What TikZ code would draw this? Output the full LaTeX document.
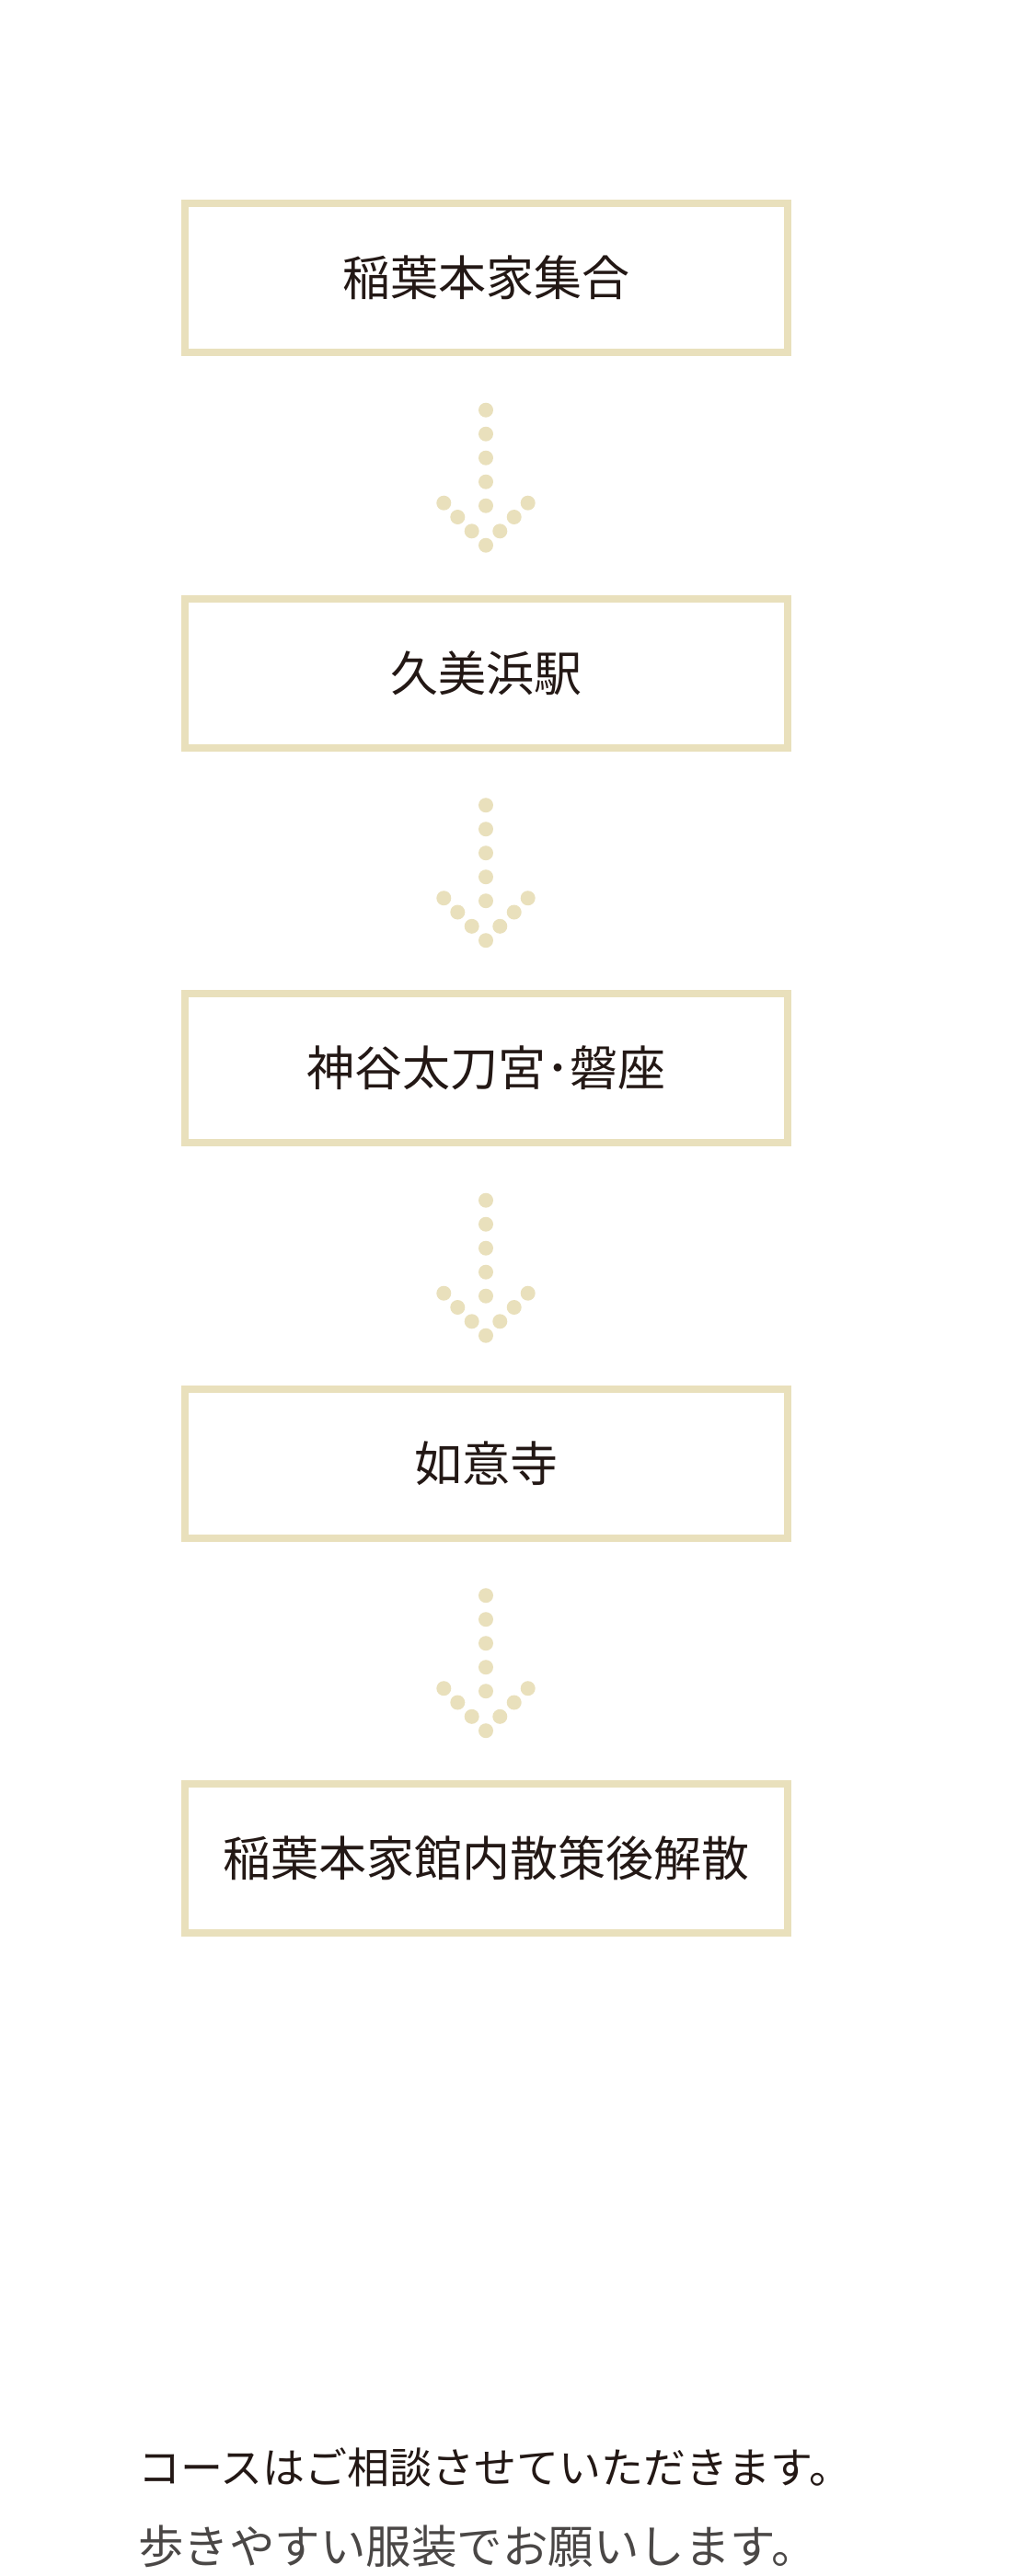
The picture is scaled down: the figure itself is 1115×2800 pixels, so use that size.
\documentclass[tikz,border=0pt]{standalone}
\usepackage{fontspec}
\setmainfont{Noto Sans CJK JP}
\usetikzlibrary{calc}
\definecolor{gold}{HTML}{E9E0BC}
\definecolor{ink}{HTML}{231815}
\definecolor{ink2}{HTML}{4A4746}
\begin{document}
\begin{tikzpicture}[x=1pt,y=-1pt,
  stepbox/.style={draw=gold, line width=8pt, minimum width=655pt, minimum height=162pt,
    inner sep=0pt, outer sep=0pt, font=\fontsize{52}{60}\selectfont, text=ink},
  dotc/.style={fill=gold, draw=none}]
\useasboundingbox (0,0) rectangle (1115,2800);
\node[stepbox] (b1) at (528,302) {稲葉本家集合};
\node[stepbox] (b2) at (528,731.5) {久美浜駅};
\node[stepbox] (b3) at (528,1161) {神谷太刀宮･磐座};
\node[stepbox] (b4) at (528,1590.5) {如意寺};
\node[stepbox] (b5) at (528,2020) {稲葉本家館内散策後解散};
\foreach \a in {b1,b2,b3,b4}{
  \begin{scope}[shift={(\a.center)}]
    \foreach \i in {0,...,4}{\fill[dotc] (0,143.7+26*\i) circle (8);}
    \foreach \p in {{-45.7,244.7},{-30.7,260},{-15.3,275.3},{0,290.7},{15.3,275.3},{30.7,260},{45.7,244.7}}{
      \fill[dotc] (\p) circle (8);}
  \end{scope}
}
\node[anchor=west, inner sep=0pt, font=\fontsize{46}{50}\selectfont, text=ink] (t1) at (150,2682) {コースはご相談させていただきます。};
\node[anchor=west, inner sep=0pt, font=\fontsize{49.5}{54}\selectfont, text=ink2] (t2) at (150,2768) {歩きやすい服装でお願いします。};
\end{tikzpicture}
\end{document}
